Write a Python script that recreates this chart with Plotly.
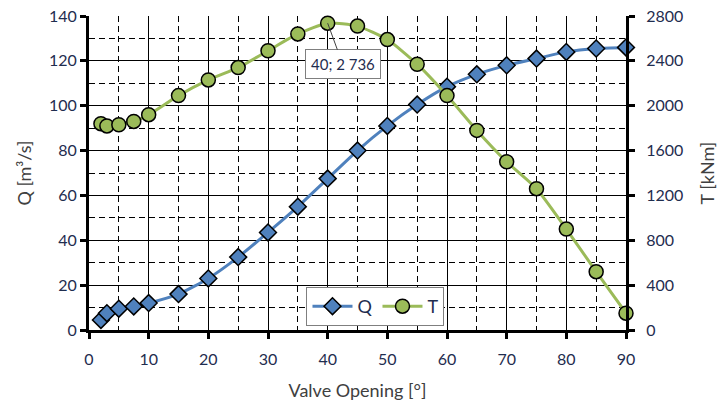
import plotly.graph_objects as go

opening = [2, 3, 5, 7.5, 10, 15, 20, 25, 30, 35, 40, 45, 50, 55, 60, 65, 70, 75, 80, 85, 90]
q_vals = [4.5, 7.5, 9.5, 10.5, 12, 16, 23, 32.5, 43.5, 55, 67.5, 80, 91, 100.5, 108.5, 114, 118, 121, 124, 125.5, 126]
t_vals = [1840, 1820, 1830, 1860, 1920, 2090, 2230, 2340, 2490, 2640, 2736, 2710, 2590, 2370, 2090, 1780, 1500, 1260, 900, 520, 150]

q_ticks = list(range(0, 141, 20))
t_ticks = list(range(0, 2801, 400))
x_ticks = list(range(0, 91, 10))

FONT = "Lato"
TXT = "#1F2D4F"
TITLE = "#404040"
BLUE = "#4F81BD"
GREEN = "#9BBB59"
DASH = "6px,4px"

fig = go.Figure()
fig.add_trace(go.Scatter(
    x=opening, y=q_vals, name="Q", mode="lines+markers",
    line=dict(color=BLUE, width=3, shape="spline", smoothing=0.6),
    marker=dict(symbol="diamond", size=13, color=BLUE, line=dict(color="black", width=1.5)),
    cliponaxis=False, yaxis="y"))
fig.add_trace(go.Scatter(
    x=opening, y=t_vals, name="T", mode="lines+markers",
    line=dict(color=GREEN, width=3, shape="spline", smoothing=0.6),
    marker=dict(symbol="circle", size=14, color=GREEN, line=dict(color="black", width=1.5)),
    cliponaxis=False, yaxis="y2"))

fig.add_annotation(
    x=40, y=2736, xref="x", yref="y2", text="40; 2 736",
    showarrow=True, arrowhead=0, arrowwidth=1, arrowcolor="#404040",
    ax=15, ay=41, bgcolor="white", bordercolor="#7F7F7F", borderwidth=1, borderpad=5,
    font=dict(family=FONT, size=15, color=TXT))

fig.update_layout(
    width=719, height=401,
    margin=dict(l=89, r=93, t=16, b=71),
    paper_bgcolor="white", plot_bgcolor="white",
    font=dict(family=FONT, size=16, color=TXT),
    showlegend=True,
    legend=dict(orientation="h", x=0.405, y=0.137, xanchor="left", yanchor="top",
                bgcolor="white", bordercolor="#7F7F7F", borderwidth=1,
                font=dict(family=FONT, size=18, color=TXT), itemwidth=40, tracegroupgap=0),
    xaxis=dict(range=[0, 90], tickvals=x_ticks, ticks="outside", ticklen=6, tickwidth=3,
               tickcolor="black", showline=True, linewidth=3, linecolor="black",
               showgrid=True, gridcolor="black", gridwidth=1, zeroline=False, automargin=False,
               ticklabelstandoff=7,
               minor=dict(dtick=5, showgrid=True, gridcolor="black", griddash=DASH, gridwidth=1),
               title=dict(text="Valve Opening [°]", font=dict(family=FONT, size=18, color=TITLE), standoff=22),
               tickfont=dict(family=FONT, size=16, color=TXT)),
    yaxis=dict(range=[0, 140], tickvals=q_ticks, ticks="outside", ticklen=6, tickwidth=3,
               tickcolor="black", showline=True, linewidth=3, linecolor="black",
               showgrid=True, gridcolor="black", gridwidth=1, zeroline=False, automargin=False,
               ticklabeloverflow="allow",
               minor=dict(dtick=10, showgrid=True, gridcolor="black", griddash=DASH, gridwidth=1),
               title=dict(text="Q [m³/s]", font=dict(family=FONT, size=18, color=TITLE), standoff=13),
               tickfont=dict(family=FONT, size=16, color=TXT)),
    yaxis2=dict(range=[0, 2800], tickvals=t_ticks, overlaying="y", side="right",
                ticks="outside", ticklen=6, tickwidth=3, tickcolor="black", automargin=False,
                ticklabelstandoff=8, ticklabeloverflow="allow",
                showline=True, linewidth=3, linecolor="black", showgrid=False, zeroline=False,
                title=dict(text="T [kNm]", font=dict(family=FONT, size=18, color=TITLE), standoff=20),
                tickfont=dict(family=FONT, size=16, color=TXT)),
)

fig.write_html("out.html", config={"displayModeBar": False},
               post_script="document.body.style.margin='0';")
